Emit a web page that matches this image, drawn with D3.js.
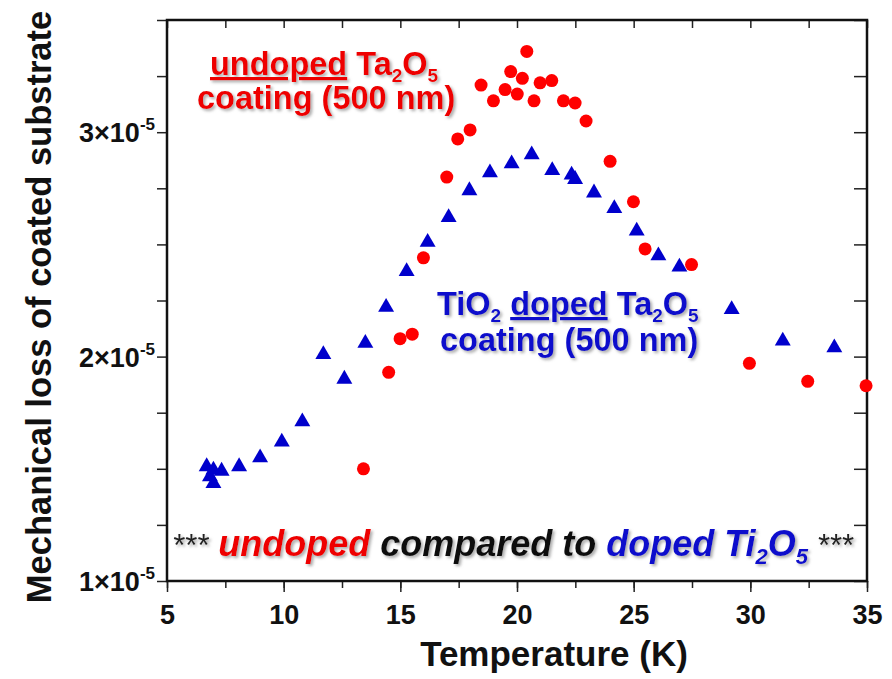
<!DOCTYPE html>
<html>
<head>
<meta charset="utf-8">
<script src="https://cdn.jsdelivr.net/npm/d3@7"></script>
<style>
  body { margin: 0; background: #fff; }
  text { font-family: "Liberation Sans", Arial, sans-serif; font-weight: bold; }
</style>
</head>
<body>
<script>
// undoped Ta2O5 (red circles)
const undopedT = [13.42, 14.50, 14.99, 15.51, 15.99, 16.99, 17.46, 17.99, 18.46, 18.99, 19.49, 19.73, 20.01, 20.23,
                  20.42, 20.73, 20.99, 21.49, 21.99, 22.49, 22.96, 23.99, 24.99, 25.49, 27.48, 29.96, 32.46, 34.96];
const undopedLoss = [1.50, 1.93, 2.08, 2.10, 2.44, 2.80, 2.97, 3.01, 3.21, 3.14, 3.19, 3.27, 3.17, 3.24,
                     3.36, 3.14, 3.22, 3.23, 3.14, 3.13, 3.05, 2.87, 2.69, 2.48, 2.41, 1.97, 1.89, 1.87];
// TiO2 doped Ta2O5 (blue triangles)
const dopedT = [6.70, 6.84, 6.99, 6.99, 7.34, 8.09, 8.99, 9.92, 10.80, 11.70, 12.60, 13.50, 14.39, 15.27, 16.17, 17.07,
                17.96, 18.84, 19.77, 20.63, 21.51, 22.34, 22.49, 23.30, 24.17, 25.13, 26.06, 26.96, 29.20, 31.39, 33.60];
const dopedLoss = [1.51, 1.465, 1.495, 1.435, 1.49, 1.51, 1.55, 1.62, 1.71, 2.01, 1.90, 2.06, 2.22, 2.38, 2.51, 2.62,
                   2.74, 2.82, 2.86, 2.90, 2.83, 2.81, 2.79, 2.73, 2.66, 2.56, 2.45, 2.40, 2.21, 2.07, 2.04];
// values above are in units of 1e-5
const xTicks = [5, 10, 15, 20, 25, 30, 35];
const yTicks = [1, 2, 3];

const width = 892;
const height = 679;
const padLeft = 167, padRight = 867, padTop = 20, padBottom = 581;

const svg = d3.select("body").append("svg")
    .attr("width", width)
    .attr("height", height);

const defs = svg.append("defs");
defs.append("filter").attr("id", "shadow")
    .attr("x", "-5%").attr("y", "-20%").attr("width", "115%").attr("height", "150%")
  .append("feDropShadow")
    .attr("dx", 2).attr("dy", 2).attr("stdDeviation", 1.5)
    .attr("flood-color", "#888").attr("flood-opacity", 0.7);

const x = d3.scaleLinear().domain([5, 35]).range([padLeft, padRight]);
const y = d3.scaleLinear().domain([1, 3.5]).range([padBottom, padTop]);

const minorX = d3.range(5, 35.01, 2.5);
const minorY = d3.range(1, 3.51, 0.25);

// bottom axis (outward ticks)
svg.append("g").attr("transform", "translate(0," + padBottom + ")")
    .call(d3.axisBottom(x).tickValues(minorX).tickSize(7).tickFormat(""))
    .call(g => g.select(".domain").remove())
    .call(g => g.selectAll(".tick line").attr("stroke-width", 1.5).attr("stroke", "#222"));
svg.append("g").attr("transform", "translate(0," + padBottom + ")")
    .call(d3.axisBottom(x).tickValues(xTicks).tickSize(11).tickPadding(13))
    .call(g => g.select(".domain").remove())
    .call(g => g.selectAll(".tick line").attr("stroke-width", 1.5).attr("stroke", "#222"))
    .call(g => g.selectAll("text").attr("font-size", 27).attr("fill", "#111"));

// top axis, inward ticks
svg.append("g").attr("transform", "translate(0," + padTop + ")")
    .call(d3.axisBottom(x).tickValues(minorX).tickSize(8).tickFormat(""))
    .call(g => g.select(".domain").remove())
    .call(g => g.selectAll(".tick line").attr("stroke-width", 1.5).attr("stroke", "#222"));

// right axis, inward ticks
svg.append("g").attr("transform", "translate(" + padRight + ",0)")
    .call(d3.axisLeft(y).tickValues(minorY).tickSize(13).tickFormat(""))
    .call(g => g.select(".domain").remove())
    .call(g => g.selectAll(".tick line").attr("stroke-width", 1.5).attr("stroke", "#222"));

// left axis, outward ticks
svg.append("g").attr("transform", "translate(" + padLeft + ",0)")
    .call(d3.axisLeft(y).tickValues(minorY).tickSize(10).tickFormat(""))
    .call(g => g.select(".domain").remove())
    .call(g => g.selectAll(".tick line").attr("stroke-width", 1.5).attr("stroke", "#222"));

const yLab = svg.append("g").selectAll("text")
    .data(yTicks)
    .enter()
    .append("text")
    .attr("x", 155)
    .attr("y", d => y(d) + 10)
    .attr("text-anchor", "end")
    .attr("fill", "#111");
yLab.append("tspan").attr("font-size", 27).text(d => d + "×10");
yLab.append("tspan").attr("font-size", 17).attr("baseline-shift", 12).text("-5");

// frame
svg.append("rect")
    .attr("x", padLeft).attr("y", padTop)
    .attr("width", padRight - padLeft).attr("height", padBottom - padTop)
    .attr("fill", "none").attr("stroke", "#111").attr("stroke-width", 2.5);

// axis titles
svg.append("text")
    .attr("x", 554).attr("y", 666)
    .attr("text-anchor", "middle")
    .attr("font-size", 35)
    .attr("fill", "#111")
    .text("Temperature (K)");

svg.append("text")
    .attr("transform", "translate(51,307) rotate(-90)")
    .attr("text-anchor", "middle")
    .attr("font-size", 34.5)
    .attr("fill", "#111")
    .text("Mechanical loss of coated substrate");

// markers
const undoped = undopedT.map((t, i) => [t, undopedLoss[i]]);
const doped = dopedT.map((t, i) => [t, dopedLoss[i]]);

svg.append("g").selectAll("path")
    .data(doped)
    .enter()
    .append("path")
    .attr("d", d3.symbol().type(d3.symbolTriangle).size(110))
    .attr("transform", d => "translate(" + x(d[0]) + "," + y(d[1]) + ")")
    .attr("fill", "#0000cc");

svg.append("g").selectAll("circle")
    .data(undoped)
    .enter()
    .append("circle")
    .attr("cx", d => x(d[0]))
    .attr("cy", d => y(d[1]))
    .attr("r", 6.5)
    .attr("fill", "#ff0000");

// annotations
const red = "#ee0000", blue = "#1010cc";

function label(xp, yp, color, parts) {
    const t = svg.append("text")
        .attr("x", xp).attr("y", yp)
        .attr("font-size", 32.5)
        .attr("fill", color)
        .attr("filter", "url(#shadow)");
    parts.forEach(p => {
        const s = t.append("tspan").text(p.text);
        if (p.sub) s.attr("font-size", 19).attr("baseline-shift", -7);
        if (p.u) s.attr("text-decoration", "underline");
    });
    return t;
}

label(210, 75, red, [
    {text: "undoped", u: true}, {text: " Ta"}, {text: "2", sub: true}, {text: "O"}, {text: "5", sub: true}
]);
label(197, 109, red, [{text: "coating (500 nm)"}]);

label(437, 315, blue, [
    {text: "TiO"}, {text: "2", sub: true}, {text: " "}, {text: "doped", u: true}, {text: " Ta"},
    {text: "2", sub: true}, {text: "O"}, {text: "5", sub: true}
]);
label(440, 351, blue, [{text: "coating (500 nm)"}]);

const note = svg.append("text")
    .attr("x", 172).attr("y", 556)
    .attr("font-size", 36)
    .attr("font-style", "italic")
    .attr("fill", "#111")
    .attr("filter", "url(#shadow)");
note.append("tspan").attr("font-size", 31).attr("font-weight", "normal").attr("fill", "#222").text("***");
note.append("tspan").attr("fill", red).text(" undoped");
note.append("tspan").text(" compared to");
note.append("tspan").attr("fill", blue).text(" doped Ti");
note.append("tspan").attr("fill", blue).attr("font-size", 22).attr("baseline-shift", -8).text("2");
note.append("tspan").attr("fill", blue).text("O");
note.append("tspan").attr("fill", blue).attr("font-size", 22).attr("baseline-shift", -8).text("5");
note.append("tspan").attr("font-size", 31).attr("font-weight", "normal").attr("fill", "#222").text(" ***");
</script>
</body>
</html>
